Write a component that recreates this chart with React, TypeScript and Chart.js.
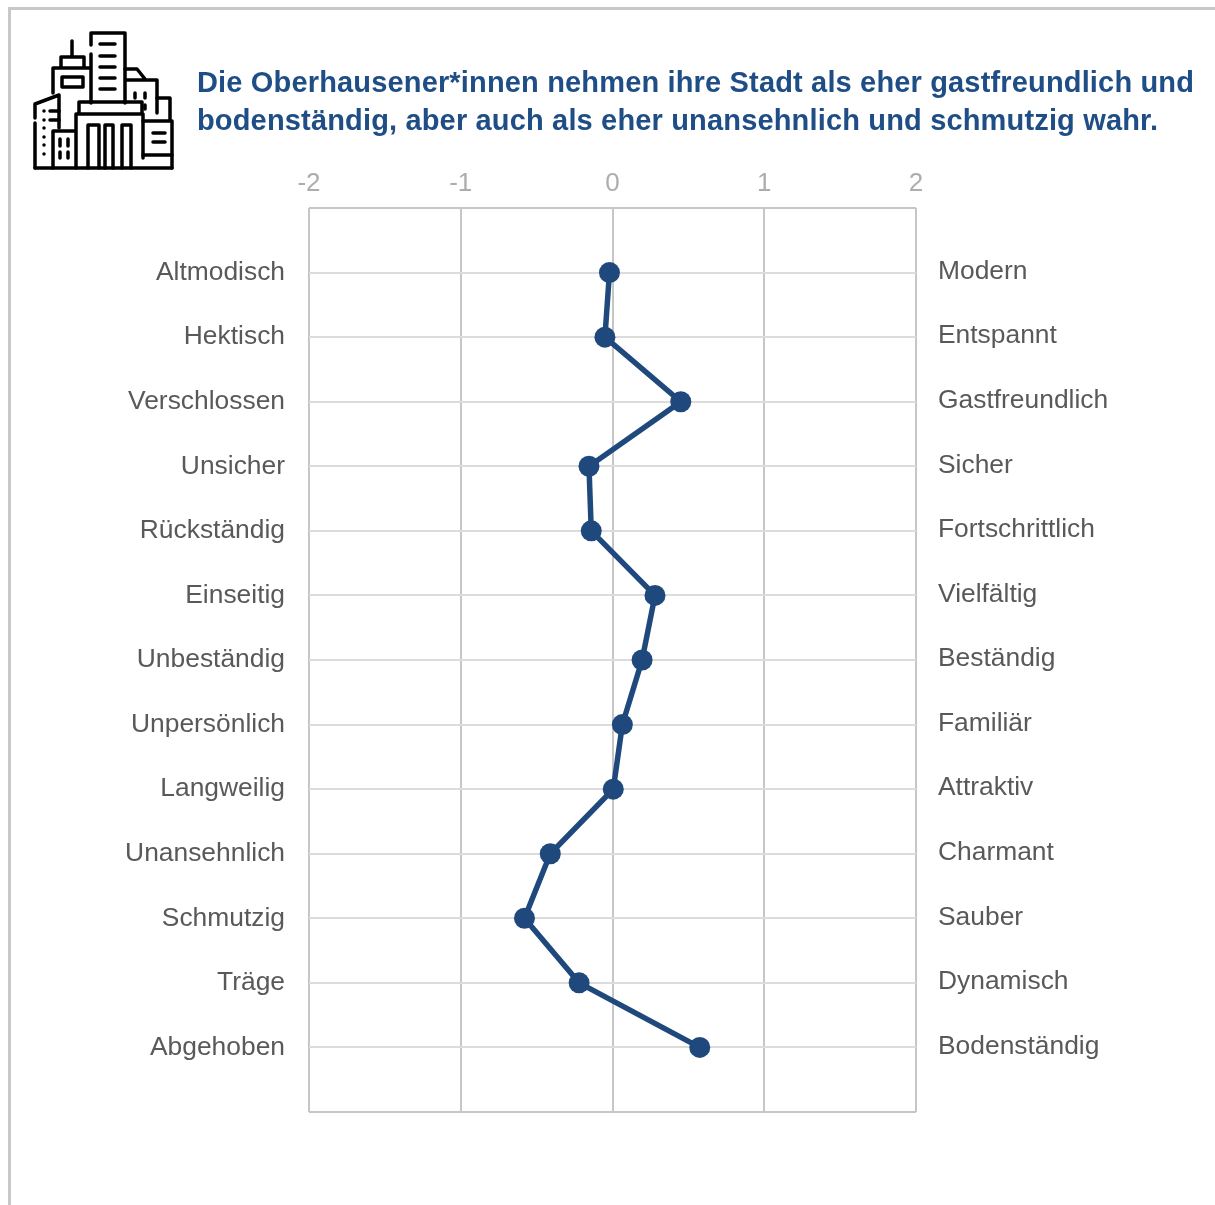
import React, { useEffect, useRef } from "react";
import { Chart, registerables } from "chart.js";

Chart.register(...registerables);

const FONT = '"Liberation Sans", Arial, sans-serif';
const titleLines = [
  "Die Oberhausener*innen nehmen ihre Stadt als eher gastfreundlich und",
  "bodenständig, aber auch als eher unansehnlich und schmutzig wahr.",
];
const leftLabels = ["Altmodisch", "Hektisch", "Verschlossen", "Unsicher", "Rückständig", "Einseitig", "Unbeständig", "Unpersönlich", "Langweilig", "Unansehnlich", "Schmutzig", "Träge", "Abgehoben"];
const rightLabels = ["Modern", "Entspannt", "Gastfreundlich", "Sicher", "Fortschrittlich", "Vielfältig", "Beständig", "Familiär", "Attraktiv", "Charmant", "Sauber", "Dynamisch", "Bodenständig"];
const values = [-0.02, -0.05, 0.45, -0.155, -0.14, 0.28, 0.195, 0.065, 0.005, -0.41, -0.58, -0.22, 0.575];

const BLUE = "#1f497d";
const DARK_GRID = "#c6c6c6";
const LIGHT_GRID = "#dcdcdc";
const LABEL = "#595959";

const iconPaths = [
  "M91 45V33H125V103", "M91 54V103",
  "M100 44H115M100 56H115M100 67H115M100 78H115M100 89H115",
  "M72 41V57M61 68V57H84V68M53 93V68H90",
  "M62 77H83V87H62Z",
  "M35 118V104L59 95V128M35 123V168",
  "M50 111H59M50 120H59",
  "M44 111V111.1M44 120V120.1M44 128V128.1M44 137V137.1M44 145V145.1M44 154V154.1",
  "M79 113V102H142V113M76 168V114H143V158",
  "M88 168V125H99V168M105 168V125H113V168M122 168V125H131V168",
  "M125 69H137L145 79M127 80H157V113",
  "M157 98H170V120",
  "M143 121H172V168",
  "M153 133H165M153 142H165M143 155H172",
  "M135 93V98M145 93V98M145 105V109",
  "M53 168V131H74",
  "M60 139V146M68 139V146M60 152V158M68 152V158",
  "M35 168H172",
];

export default function App() {
  const ref = useRef<HTMLCanvasElement>(null);

  useEffect(() => {
    document.documentElement.style.overflow = "hidden";
    const edgeColor = (ctx: any) => (ctx.tick && (ctx.tick.value === 0 || ctx.tick.value === 14) ? DARK_GRID : LIGHT_GRID);
    const sideTicks = (labels: string[], padding: number, offset: number) => ({
      stepSize: 1,
      autoSkip: false,
      padding,
      labelOffset: offset,
      color: LABEL,
      font: { family: FONT, size: 26.4 },
      callback: (v: any) => labels[Number(v) - 1] ?? "",
    });
    const chart = new Chart(ref.current!, {
      type: "scatter",
      data: {
        datasets: [
          {
            data: values.map((x, i) => ({ x, y: i + 1 })),
            showLine: true,
            tension: 0,
            borderColor: BLUE,
            backgroundColor: BLUE,
            borderWidth: 5.5,
            pointRadius: 10.5,
            pointBorderWidth: 0,
            pointHoverRadius: 10.5,
            xAxisID: "x",
            yAxisID: "y",
          },
        ],
      },
      options: {
        responsive: false,
        animation: false,
        layout: { padding: { left: 0, right: 0, top: 0, bottom: 93 } },
        plugins: { legend: { display: false }, title: { display: false }, tooltip: { enabled: false } },
        scales: {
          x: {
            type: "linear",
            position: "top",
            min: -2,
            max: 2,
            afterFit: (s: any) => { s.height = 208; },
            border: { display: false },
            grid: { color: DARK_GRID, lineWidth: 2, drawTicks: false },
            ticks: { stepSize: 1, padding: 9, color: "#adadad", font: { family: FONT, size: 26 }, maxRotation: 0 },
          },
          y: {
            type: "linear",
            position: "left",
            reverse: true,
            min: 0,
            max: 14,
            afterFit: (s: any) => { s.width = 309; },
            border: { display: false },
            grid: { color: edgeColor, lineWidth: 2, drawTicks: false },
            ticks: sideTicks(leftLabels, 24, 0),
          },
          y2: {
            type: "linear",
            position: "right",
            reverse: true,
            min: 0,
            max: 14,
            afterFit: (s: any) => { s.width = 299; },
            border: { display: false },
            grid: { display: false, drawTicks: false },
            ticks: sideTicks(rightLabels, 22, -1),
          },
        },
      } as any,
    });
    return () => chart.destroy();
  }, []);

  return (
    <div style={{ position: "absolute", left: 0, top: 0, width: 1215, height: 1205, overflow: "hidden", background: "#fff" }}>
      <div style={{ position: "absolute", left: 8, top: 7, right: -5, bottom: -5, borderLeft: "3px solid #c8c8c8", borderTop: "3px solid #c8c8c8" }} />
      <canvas ref={ref} width={1215} height={1205} style={{ position: "absolute", left: 0, top: 0, display: "block" }} />
      <svg width={200} height={180} style={{ position: "absolute", left: 0, top: 0 }} fill="none" stroke="#000" strokeWidth={3.5} strokeLinecap="round" strokeLinejoin="round">
        {iconPaths.map((d, i) => <path key={i} d={d} />)}
      </svg>
      <div style={{ position: "absolute", left: 197, top: 63, whiteSpace: "nowrap", font: `bold 29px/38px ${FONT}`, letterSpacing: "0.16px", color: "#1f4e86" }}>
        {titleLines.map((t) => <div key={t}>{t}</div>)}
      </div>
    </div>
  );
}
